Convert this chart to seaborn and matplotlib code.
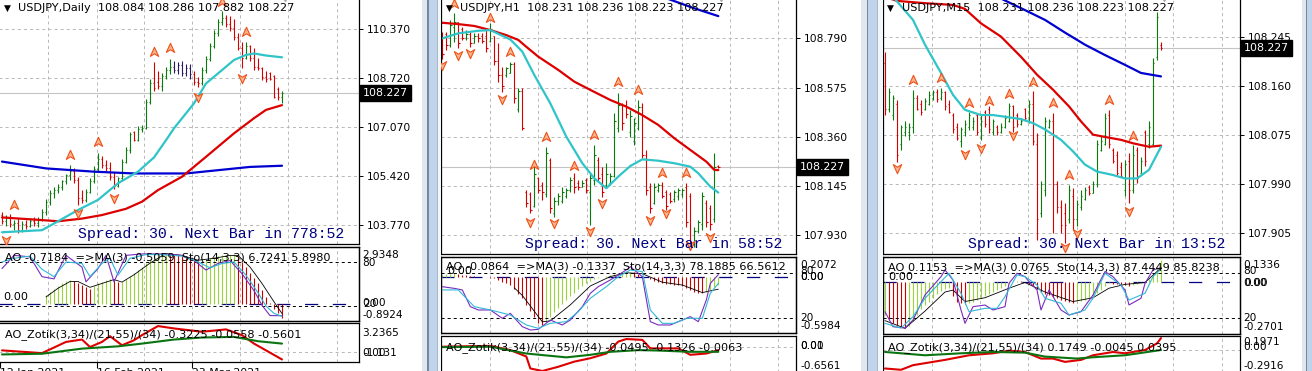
import numpy as np
import matplotlib
matplotlib.use("Agg")
import matplotlib.pyplot as plt
from matplotlib.path import Path
from matplotlib.patches import Rectangle
from matplotlib.transforms import ScaledTranslation
import seaborn as sns

sns.set_theme(style="white")
plt.rcParams["font.family"] = ["DejaVu Sans"]
plt.rcParams["lines.scale_dashes"] = False

nan = float("nan")

# ---------------- DATA: Daily ----------------
d1_open = [104.10,103.90,104.00,103.80,103.85,103.60,103.80,103.75,103.90,103.85,103.95,104.20,104.55,104.85,104.95,105.05,105.25,105.45,105.60,105.30,
           104.70,104.60,104.90,105.25,105.65,106.00,105.80,105.70,105.40,105.10,105.35,105.90,106.30,106.90,106.65,107.00,107.05,107.90,108.55,108.60,
           108.45,108.80,109.00,109.10,109.00,109.15,108.90,109.05,108.85,108.60,108.55,109.00,109.35,109.80,110.25,110.60,110.75,110.55,110.40,110.10,
           109.75,109.40,109.80,109.40,109.10,109.05,108.75,108.90,108.80,108.35,108.084]
d1_high = [104.22,104.10,104.15,103.95,104.00,103.90,103.95,104.00,104.05,104.05,104.30,104.65,104.95,105.05,105.15,105.30,105.50,105.79,105.70,105.40,
           104.95,105.00,105.35,105.75,106.19,106.10,105.95,105.90,105.55,105.40,106.00,106.40,106.90,106.95,107.10,107.15,108.00,108.70,109.27,108.95,
           108.90,109.10,109.35,109.30,109.25,109.30,109.20,109.20,108.95,108.75,109.10,109.45,109.90,110.35,110.70,110.97,110.85,110.80,110.70,110.25,
           109.95,109.95,109.85,109.75,109.40,109.10,108.95,108.94,108.82,108.43,108.286]
d1_low = [103.80,103.75,103.70,103.60,103.50,103.55,103.65,103.70,103.75,103.70,103.90,104.10,104.45,104.70,104.85,104.95,105.15,105.30,105.20,104.45,
          104.50,104.55,104.85,105.20,105.55,105.70,105.60,105.30,105.00,105.05,105.30,105.85,106.20,106.60,106.60,106.90,107.00,107.85,108.30,108.35,
          108.30,108.70,108.85,108.90,108.85,108.80,108.80,108.70,108.50,108.43,108.50,108.90,109.30,109.75,110.15,110.50,110.45,110.30,110.00,109.65,
          109.05,109.35,109.30,108.99,108.99,108.66,108.60,108.66,108.04,107.98,107.882]
d1_close = [103.90,104.00,103.80,103.85,103.60,103.80,103.75,103.90,103.85,103.95,104.20,104.55,104.85,104.95,105.05,105.25,105.45,105.60,105.30,104.70,
            104.60,104.90,105.25,105.65,106.00,105.80,105.70,105.40,105.10,105.35,105.90,106.30,106.85,106.65,107.00,107.05,107.90,108.55,108.40,108.45,
            108.80,109.00,109.10,109.00,109.15,108.90,109.05,108.85,108.60,108.55,109.00,109.35,109.80,110.25,110.60,110.75,110.55,110.40,110.10,109.75,
            109.40,109.80,109.40,109.10,109.05,108.75,108.70,108.70,108.10,108.08,108.227]
d1_cyan_idx = [0,10,14,19,24,29,34,38,41,43,48,51,55,58,61,63,66,70]
d1_cyan = [103.53,103.60,103.90,104.28,104.62,105.18,105.57,106.05,106.63,107.03,107.87,108.54,108.99,109.33,109.50,109.55,109.48,109.42]
d1_red_idx = [0,10,14,20,25,31,35,39,45,51,58,63,66,70]
d1_red = [104.03,103.94,103.90,103.99,104.11,104.32,104.56,104.95,105.40,106.07,106.86,107.37,107.65,107.81]
d1_blue_idx = [0,11,23,33,46,54,62,70]
d1_blue = [105.91,105.68,105.57,105.51,105.51,105.62,105.73,105.77]
d1_up_idx = [3,17,24,38,42,55,61]
d1_up = [104.45,106.13,106.58,109.61,109.72,111.29,110.28]
d1_dn_idx = [1,19,28,49,60]
d1_dn = [103.27,104.17,104.67,108.10,108.71]
d1_ao = [nan]*11 + [0.43,0.60,0.75,0.90,1.05,1.17,1.24,1.20,1.05,0.95,0.85,0.78,0.90,1.05,1.15,1.22,1.30,1.25,1.10,1.15,
                    1.30,1.45,1.60,1.75,1.90,2.10,2.30,2.45,2.55,2.62,2.65,2.60,2.55,2.50,2.45,2.40,2.35,2.25,2.20,2.22,
                    2.28,2.35,2.40,2.45,2.50,2.52,2.53,2.55,2.40,2.15,1.90,1.60,1.35,1.05,0.70,0.35,0.05,-0.25,-0.50,-0.72]
d1_sig_idx = [11,14,17,19,22,25,28,30,33,37,41,45,49,53,57,59,62,65,68,70]
d1_sig = [0.35,0.8,1.15,1.15,0.85,1.05,1.25,1.12,1.5,2.1,2.6,2.5,2.25,2.35,2.5,2.5,1.9,1.05,0.1,-0.5059]
d1_k_idx = [0,3,7,10,13,16,20,21,24,26,28,31,35,38,41,45,48,51,54,57,60,63,65,67,70]
d1_k = [71,89,87,60,57,89,73,53,71,89,53,89,91,91,91,89,82,69,78,82,64,41,21,7,6.72]
d1_d_idx = [0,3,7,10,13,16,20,22,25,27,29,32,36,40,45,49,52,55,58,61,64,66,68,70]
d1_d = [80,85,88,70,60,80,78,60,78,85,62,85,90,90,88,80,72,78,80,62,38,20,10,5.90]
d1_zr_idx = [0,10,16,20,22,25,27,30,33,35,39,43,50,56,60,63,66,70]
d1_zr = [0.13,-0.18,1.09,1.36,0.51,1.09,1.74,0.71,1.28,1.86,2.89,2.62,2.24,2.51,1.86,0.90,0.13,-0.90]
d1_zg_idx = [0,10,20,29,35,43,50,58,64,70]
d1_zg = [-0.33,-0.25,0.33,0.59,0.90,1.36,1.59,1.66,1.17,0.90]
d1_yticks = [103.770,105.420,107.070,108.720,110.370]
d1_dates = ["12 Jan 2021","16 Feb 2021","23 Mar 2021"]

# ---------------- DATA: H1 ----------------
d2_open = [108.80,108.81,108.76,108.84,108.86,108.83,108.79,108.81,108.77,108.80,108.80,108.80,108.78,108.80,108.69,108.63,108.63,108.64,108.68,108.48,
           108.56,108.12,108.11,108.06,108.18,108.15,108.11,108.26,108.03,108.08,108.08,108.10,108.13,108.18,108.16,108.14,108.17,108.12,108.17,108.26,
           108.20,108.15,108.16,108.19,108.40,108.50,108.50,108.38,108.34,108.40,108.49,108.28,108.14,108.07,108.13,108.15,108.12,108.11,108.09,108.10,
           108.11,108.14,108.10,107.89,107.95,107.98,108.07,108.05,108.00,108.231]
d2_high = [108.819,108.819,108.870,108.899,108.863,108.841,108.826,108.819,108.812,108.812,108.812,108.826,108.855,108.800,108.768,108.666,108.666,108.688,108.688,108.572,
           108.572,108.128,108.121,108.237,108.187,108.165,108.317,108.270,108.099,108.114,108.143,108.136,108.187,108.201,108.172,108.172,108.179,108.201,108.325,108.274,
           108.230,108.245,108.201,108.463,108.550,108.506,108.521,108.477,108.441,108.521,108.506,108.303,108.157,108.157,108.157,108.165,108.128,108.121,108.128,108.136,
           108.136,108.157,108.114,107.968,107.998,108.121,108.085,108.063,108.288,108.236]
d2_low = [108.700,108.739,108.753,108.775,108.746,108.783,108.783,108.753,108.768,108.775,108.768,108.732,108.775,108.674,108.601,108.557,108.623,108.637,108.506,108.470,
          108.390,108.056,108.027,108.056,108.114,108.085,108.099,108.027,108.012,108.063,108.070,108.092,108.121,108.114,108.128,108.140,108.114,107.976,108.150,108.165,
          108.099,108.143,108.150,108.187,108.383,108.390,108.441,108.361,108.325,108.390,108.266,108.107,108.027,108.065,108.121,108.092,108.041,108.070,108.078,108.085,
          108.099,107.968,107.867,107.881,107.939,107.954,107.968,107.954,107.990,108.223]
d2_close = [108.72,108.76,108.85,108.86,108.77,108.79,108.81,108.77,108.80,108.79,108.78,108.75,108.83,108.69,108.63,108.58,108.66,108.68,108.53,108.56,
            108.40,108.07,108.04,108.20,108.13,108.12,108.29,108.05,108.08,108.10,108.12,108.13,108.17,108.14,108.14,108.16,108.13,108.18,108.28,108.18,
            108.12,108.20,108.19,108.43,108.50,108.42,108.46,108.45,108.42,108.49,108.28,108.13,108.05,108.14,108.15,108.10,108.06,108.08,108.12,108.13,
            108.13,107.99,107.89,107.95,107.99,108.10,107.99,107.98,108.23,108.227]
d2_red_idx = [0,4,8,12,16,19,21,24,29,33,37,42,46,50,54,58,62,66,68,69]
d2_red = [108.858,108.852,108.844,108.826,108.804,108.783,108.753,108.710,108.652,108.601,108.565,108.521,108.492,108.455,108.412,108.354,108.303,108.252,108.216,108.215]
d2_cyan_idx = [0,4,9,12,17,20,23,27,31,35,38,41,44,47,50,54,58,62,64,67,69]
d2_cyan = [108.790,108.812,108.823,108.826,108.785,108.732,108.630,108.506,108.361,108.245,108.179,108.136,108.187,108.233,108.262,108.256,108.245,108.230,108.201,108.143,108.117]
d2_blue_idx = [56,63,69]
d2_blue = [108.965,108.921,108.887]
d2_up_idx = [3,12,17,23,26,33,38,44,49,55,61]
d2_up = [108.942,108.877,108.732,108.237,108.358,108.234,108.368,108.601,108.565,108.201,108.201]
d2_dn_idx = [0,4,7,15,22,28,37,40,52,56,62,67]
d2_dn = [108.673,108.717,108.724,108.524,107.990,107.983,107.951,108.070,107.998,108.027,107.890,107.922]
d2_ao = [0.02,0.025,0.03,0.035,0.03,0.02,0.015,0.01,0.005,0.0,-0.004,-0.008,-0.012,-0.02,-0.04,-0.06,-0.07,-0.09,-0.13,-0.18,
         -0.23,-0.30,-0.36,-0.43,-0.49,-0.51,-0.48,-0.43,-0.38,-0.33,-0.29,-0.25,-0.21,-0.17,-0.13,-0.10,-0.07,-0.05,-0.03,-0.02,
         -0.01,0.01,0.02,0.03,0.04,0.045,0.048,0.05,0.045,0.03,0.01,-0.01,-0.03,-0.05,-0.06,-0.07,-0.075,-0.08,-0.085,-0.09,
         -0.10,-0.12,-0.14,-0.16,-0.17,-0.175,-0.16,-0.14,-0.11,-0.0864]
d2_sig_idx = [18,20,25,27,32,37,42,46,50,55,60,65,69]
d2_sig = [-0.12,-0.2,-0.48,-0.47,-0.3,-0.1,0.0,0.04,0.03,-0.06,-0.09,-0.17,-0.1337]
d2_k_idx = [0,3,5,7,9,12,15,17,20,22,24,27,30,32,35,37,39,42,46,47,50,52,54,57,60,62,64,66,67,69]
d2_k = [62.1,59.9,57.8,35.5,31.1,31.1,20,26.6,8.9,4.4,5.3,17.7,11.1,17.7,35.5,53.3,62.2,71.1,84.4,88.8,75.5,15.5,11.1,11.1,17.7,22.2,15.5,44.4,66.6,78.19]
d2_d_idx = [0,4,8,12,17,21,24,27,31,34,37,41,44,47,50,52,55,58,61,65,67,69]
d2_d = [57.8,57.8,35.5,31.1,24.4,11.1,6.6,13.3,15.5,28.9,46.7,62.2,75.5,84.4,82.2,31.1,13.3,13.3,20,20,53.3,66.56]
d2_zg_idx = [0,12,21,31,37,42,49,54,62,69]
d2_zg = [-0.01,0.0,-0.16,-0.25,-0.19,-0.12,-0.08,-0.09,-0.12,-0.12]
d2_zr_idx = [0,12,17,21,22,25,29,33,37,41,44,46,50,52,56,59,62,66,69]
d2_zr = [0.0,0.02,-0.08,-0.23,-0.51,-0.57,-0.47,-0.35,-0.27,-0.16,0.12,0.18,0.16,-0.04,-0.04,-0.04,-0.19,-0.16,-0.08]
d2_yticks = [107.930,108.145,108.360,108.575,108.790]

# ---------------- DATA: M15 ----------------
d3_open = [108.20,108.12,108.11,108.13,108.06,108.08,108.08,108.09,108.14,108.13,108.12,108.13,108.14,108.15,108.14,108.15,108.13,108.11,108.09,108.065,
           108.08,108.09,108.09,108.11,108.07,108.115,108.12,108.08,108.09,108.08,108.09,108.10,108.125,108.11,108.095,108.12,108.10,108.13,108.06,107.94,
           107.98,108.09,108.10,107.99,107.95,107.94,107.93,107.97,107.93,107.95,107.965,107.985,107.975,107.99,108.05,108.06,108.11,108.05,108.04,108.02,
           107.98,108.03,107.98,108.05,108.01,108.08,108.06,108.06,108.21,108.231]
d3_high = [108.220,108.157,108.145,108.136,108.093,108.099,108.096,108.154,108.145,108.136,108.139,108.151,108.154,108.155,108.157,108.151,108.136,108.113,108.096,108.090,
           108.102,108.116,108.107,108.113,108.110,108.119,108.126,108.104,108.093,108.096,108.110,108.131,108.128,108.113,108.104,108.122,108.136,108.151,108.078,107.995,
           108.107,108.104,108.113,107.995,107.963,107.957,107.989,107.983,107.963,107.980,107.986,107.989,107.995,108.067,108.073,108.113,108.119,108.053,108.047,108.029,
           108.032,108.044,108.058,108.055,108.038,108.084,108.099,108.209,108.289,108.236]
d3_low = [108.110,108.116,108.102,108.029,108.050,108.073,108.067,108.078,108.119,108.110,108.119,108.128,108.136,108.133,108.136,108.119,108.113,108.078,108.067,108.055,
          108.073,108.084,108.084,108.076,108.067,108.090,108.078,108.076,108.076,108.078,108.087,108.098,108.081,108.090,108.093,108.102,108.096,108.058,107.894,107.934,
          107.969,108.087,107.905,107.940,107.905,107.888,107.922,107.911,107.917,107.946,107.963,107.972,107.974,107.986,108.047,108.058,108.053,108.027,108.006,108.003,
          107.969,107.957,107.974,107.992,108.009,108.021,108.053,108.058,108.206,108.223]
d3_close = [108.12,108.15,108.14,108.04,108.09,108.09,108.09,108.14,108.12,108.115,108.135,108.145,108.15,108.138,108.15,108.125,108.115,108.085,108.07,108.085,
            108.095,108.11,108.10,108.08,108.10,108.095,108.085,108.10,108.08,108.09,108.105,108.125,108.09,108.095,108.10,108.105,108.13,108.065,107.93,107.99,
            108.10,108.10,107.99,107.95,107.92,107.92,107.98,107.93,107.955,107.97,107.98,107.975,107.99,108.06,108.065,108.105,108.06,108.03,108.01,108.005,
            108.025,107.98,108.04,108.00,108.03,108.03,108.09,108.20,108.28,108.227]
d3_red_idx = [0,3,10,17,20,24,29,34,38,42,46,49,52,55,59,62,66,69]
d3_red = [108.315,108.308,108.304,108.301,108.294,108.269,108.246,108.211,108.180,108.154,108.125,108.099,108.076,108.072,108.067,108.061,108.055,108.057]
d3_cyan_idx = [0,3,7,10,14,17,20,24,27,30,34,37,40,44,47,50,53,57,60,63,66,69]
d3_cyan = [108.330,108.307,108.275,108.232,108.183,108.145,108.119,108.110,108.110,108.107,108.103,108.096,108.085,108.067,108.047,108.024,108.012,108.006,108.000,108.000,108.015,108.055]
d3_blue_idx = [27,29,35,40,45,50,55,60,64,69]
d3_blue = [108.322,108.312,108.292,108.275,108.253,108.232,108.214,108.197,108.183,108.177]
d3_up_idx = [7,14,21,26,31,37,42,46,56,62]
d3_up = [108.171,108.174,108.131,108.135,108.146,108.168,108.131,108.006,108.136,108.073]
d3_dn_idx = [3,20,24,32,45,48,61]
d3_dn = [108.018,108.043,108.053,108.076,107.882,107.905,107.943]
d3_ao = [-0.17,-0.19,-0.21,-0.225,-0.235,-0.24,-0.23,-0.20,-0.17,-0.14,-0.12,-0.10,-0.08,-0.06,-0.045,-0.035,-0.03,-0.07,-0.10,-0.11,
         -0.115,-0.105,-0.10,-0.09,-0.08,-0.07,-0.06,-0.05,-0.04,-0.03,-0.02,-0.01,0.005,0.01,0.008,0.005,-0.01,-0.02,-0.035,-0.05,
         -0.06,-0.065,-0.075,-0.08,-0.09,-0.095,-0.10,-0.105,-0.10,-0.095,-0.09,-0.08,-0.07,-0.055,-0.04,-0.02,-0.005,-0.006,-0.01,-0.012,
         -0.015,-0.02,-0.015,-0.01,-0.005,0.005,0.02,0.045,0.08,0.1153]
d3_sig_idx = [0,5,10,15,17,20,25,31,35,40,47,52,56,60,65,69]
d3_sig = [-0.20,-0.24,-0.15,-0.05,-0.04,-0.10,-0.08,-0.03,0.0,-0.05,-0.10,-0.08,-0.03,-0.01,0.0,0.0765]
d3_k_idx = [0,2,5,7,10,14,15,17,19,20,22,25,27,30,31,33,35,36,38,39,41,44,46,49,52,55,57,60,61,64,65,67,69]
d3_k = [28.8,8.8,7.0,17.7,51.1,75.5,84.4,71.1,31.1,13.3,35.5,37.7,31.1,35.5,66.6,80,75.5,68.9,57.8,31.1,57.8,31.1,24.4,28.8,51.1,82.2,75.5,57.8,37.8,46.7,66.6,84.4,87.44]
d3_d_idx = [0,4,7,10,14,16,19,21,25,28,30,33,35,38,40,44,46,50,52,55,59,61,65,67,69]
d3_d = [13.3,7.0,22.2,46.7,68.9,80,53.3,28.9,33.3,33.3,48.9,77.8,75.5,64.4,46.7,40,24.4,31.1,46.7,80,64.4,44.4,53.3,75.5,85.82]
d3_zg_idx = [0,10,19,27,35,40,48,52,60,69]
d3_zg = [-0.03,-0.08,-0.05,-0.03,-0.04,-0.10,-0.13,-0.11,-0.08,0.0]
d3_zr_idx = [0,4,7,15,21,27,31,35,39,42,45,49,52,57,60,65,68,69]
d3_zr = [-0.28,-0.30,-0.23,-0.15,-0.08,-0.05,-0.01,-0.03,-0.13,-0.13,-0.18,-0.15,-0.08,-0.03,-0.05,0.0,0.10,0.18]
d3_yticks = [107.905,107.990,108.075,108.160,108.245]

# ---------------- STYLE ----------------
W, H = 1312, 371
BULL, BEAR, DARK = "#0a7a0a", "#d60000", "#2b1a60"
CYAN, REDMA, BLUEMA = "#2fc4c8", "#dc0000", "#0000d0"
AO_G, AO_R = "#9ad43a", "#c80000"
PURPLE, STO_C, NAVY = "#7a2bc0", "#30b8d8", "#000080"
LW1 = 0.8
GRID = dict(color="#b8b8b8", lw=0.7, ls=(0, (2.2, 2.2)), zorder=0)

fig = plt.figure(figsize=(W / 100, H / 100), dpi=100)
fig.patch.set_facecolor("white")


def px_axes(x0, y0, x1, y1):
    ax = fig.add_axes([x0 / W, 1 - y1 / H, (x1 - x0) / W, (y1 - y0) / H])
    ax.set_facecolor("white")
    for s in ax.spines.values():
        s.set_color("black")
        s.set_linewidth(0.9)
    ax.set_xticks([])
    ax.set_yticks([])
    return ax


def ftext(x, y, s, **kw):
    kw.setdefault("fontsize", 7.3)
    kw.setdefault("va", "center")
    kw.setdefault("color", "black")
    fig.text(x / W, 1 - y / H, s, **kw)


def frect(x0, x1, color, y0=0, y1=H):
    fig.add_artist(Rectangle((x0 / W, 1 - y1 / H), (x1 - x0) / W, (y1 - y0) / H,
                             transform=fig.transFigure, fc=color, ec="none", zorder=0.5))


UP = Path([(0, 1), (0.8, -0.75), (0, -0.25), (-0.8, -0.75), (0, 1)],
          [Path.MOVETO, Path.LINETO, Path.LINETO, Path.LINETO, Path.CLOSEPOLY])
DN = Path([(0, -1), (0.8, 0.75), (0, 0.25), (-0.8, 0.75), (0, -1)],
          [Path.MOVETO, Path.LINETO, Path.LINETO, Path.LINETO, Path.CLOSEPOLY])


def line(ax, idx, vals, color, lw):
    sns.lineplot(x=np.asarray(idx, float), y=np.asarray(vals, float), ax=ax, color=color,
                 linewidth=lw, estimator=None, sort=False, legend=False)
    ax.set_xlabel("")
    ax.set_ylabel("")


def main_panel(box, xlim, ylim, yticks, grid_x, o, h, l, c, mas, up, dn, dark=()):
    ax = px_axes(*box)
    for g in grid_x:
        ax.axvline(g, **GRID)
    for t in yticks:
        ax.axhline(t, **GRID)
    ax.axhline(c[-1], color="#c4c4c4", lw=0.8, zorder=0.5)
    o, h, l, c = (np.asarray(a, float) for a in (o, h, l, c))
    x = np.arange(len(o))
    cols = [BULL if cc > oo else BEAR for oo, cc in zip(o, c)]
    for k in dark:
        cols[k] = DARK
    ax.vlines(x, l, h, colors=cols, lw=LW1, zorder=2)
    ax.hlines(o, x - 0.32, x, colors=cols, lw=LW1, zorder=2)
    ax.hlines(c, x, x + 0.32, colors=cols, lw=LW1, zorder=2)
    for idx, vals, col in mas:
        line(ax, idx, vals, col, 1.6)
    ax.plot(up[0], up[1], ls="none", marker=UP, ms=7.5, mfc="#fcb58e", mec="#ee5218", mew=0.8, zorder=4)
    ax.plot(dn[0], dn[1], ls="none", marker=DN, ms=7.5, mfc="#fcb58e", mec="#ee5218", mew=0.8, zorder=4)
    ax.plot([len(o) - 0.3], [ylim[1]], ls="none", marker="v", ms=5, color="#a8a8a8", zorder=4, clip_on=False)
    ax.set_xlim(xlim)
    ax.set_ylim(ylim)
    ax.yaxis.tick_right()
    ax.set_yticks(yticks)
    ax.set_yticklabels([f"{t:.3f}" for t in yticks])
    ax.tick_params(axis="y", length=3, width=0.7, pad=3, labelsize=7.7, colors="black", left=False, right=True)
    off = ScaledTranslation(4 / 100, 0, fig.dpi_scale_trans)
    ax.text(1.0, c[-1], f"{c[-1]:.3f}", transform=ax.get_yaxis_transform() + off, ha="left", va="center",
            color="white", fontsize=7.9, zorder=6,
            bbox=dict(boxstyle="square,pad=0.28", fc="black", ec="black"))
    return ax


def sub1_panel(box, xlim, ylim, slim, grid_x, ao, sig, k, d):
    ax = px_axes(*box)
    for g in grid_x:
        ax.axvline(g, **GRID)
    ao = np.asarray(ao, float)
    x = np.arange(len(ao))
    prev = np.concatenate([[np.nan], ao[:-1]])
    ok = np.isfinite(ao)
    upm = ok & ~(ao < prev)
    dnm = ok & (ao < prev)
    ax.vlines(x[upm], 0, ao[upm], colors=AO_G, lw=LW1, zorder=2)
    ax.vlines(x[dnm], 0, ao[dnm], colors=AO_R, lw=LW1, zorder=2)
    ax.axhline(0, color=NAVY, lw=0.9, ls=(0, (9.5, 10.5)), zorder=1)
    line(ax, sig[0], sig[1], "black", 0.6)
    ax.set_xlim(xlim)
    ax.set_ylim(ylim)
    ax2 = ax.twinx()
    for s in ax2.spines.values():
        s.set_color("black")
        s.set_linewidth(0.9)
    ax2.axhline(80, color="black", lw=0.7, ls=(0, (2.2, 2.2)))
    ax2.axhline(20, color="black", lw=0.7, ls=(0, (2.2, 2.2)))
    line(ax2, k[0], k[1], PURPLE, 0.8)
    line(ax2, d[0], d[1], STO_C, 0.8)
    ax2.set_ylim(slim)
    ax2.set_xlim(xlim)
    ax2.set_yticks([])
    ax2.set_xticks([])
    return ax


def sub2_panel(box, xlim, ylim, grid_x, zr, zg):
    ax = px_axes(*box)
    for g in grid_x:
        ax.axvline(g, **GRID)
    ax.axhline(0, **GRID)
    line(ax, zr[0], zr[1], "#dd0000", 1.5)
    line(ax, zg[0], zg[1], "#0a7410", 1.5)
    ax.set_xlim(xlim)
    ax.set_ylim(ylim)
    return ax


# ---------------- window frames ----------------
for x0, x1, col in [(422, 427, "#e0e7ef"), (427, 428.6, "#75879e"), (428.6, 437, "#bfd4ea"),
                    (437, 438, "#a9b7c6"), (438, 441, "#f3f6f9"),
                    (861, 866.5, "#e0e7ef"), (866.5, 868.2, "#75879e"), (868.2, 877, "#bfd4ea"),
                    (877, 878, "#a9b7c6"), (878, 883, "#f3f6f9"),
                    (1302, 1306, "#e0e7ef"), (1306, 1307.4, "#75879e"), (1307.4, 1312, "#bfd4ea")]:
    frect(x0, x1, col)

# ---------------- Panel 1 (Daily) ----------------
g1 = [11.5, 23.75, 35.5, 47.5, 59.5, 71.5, 83.75]
xl1 = (-1.0, 89.25)
main_panel((-2, -2, 359, 244), xl1, (103.135, 111.417), d1_yticks, g1,
           d1_open, d1_high, d1_low, d1_close,
           [(d1_blue_idx, d1_blue, BLUEMA), (d1_red_idx, d1_red, REDMA), (d1_cyan_idx, d1_cyan, CYAN)],
           (d1_up_idx, d1_up), (d1_dn_idx, d1_dn), dark=(43, 44, 45, 46, 47))
sub1_panel((-2, 247, 359, 321), xl1, (-0.8924, 2.9348), (-0.4, 100.4), g1, d1_ao,
           (d1_sig_idx, d1_sig), (d1_k_idx, d1_k), (d1_d_idx, d1_d))
a13 = sub2_panel((-2, 323, 359, 361.5), xl1, (-1.131, 3.2365), g1, (d1_zr_idx, d1_zr), (d1_zg_idx, d1_zg))
a13.set_xticks([-0.5, 23.75, 47.5])
a13.set_xticklabels(d1_dates, ha="left")
a13.tick_params(axis="x", bottom=True, length=4, width=0.8, pad=1, labelsize=7.8, colors="black", direction="out")

# ---------------- Panel 2 (H1) ----------------
g2 = [11.9, 24.0, 36.1, 48.2, 59.8, 71.9, 84.0]
xl2 = (-0.33, 88.42)
main_panel((441, -2, 796, 254), xl2, (107.849, 108.966), d2_yticks, g2,
           d2_open, d2_high, d2_low, d2_close,
           [(d2_blue_idx, d2_blue, BLUEMA), (d2_red_idx, d2_red, REDMA), (d2_cyan_idx, d2_cyan, CYAN)],
           (d2_up_idx, d2_up), (d2_dn_idx, d2_dn))
sub1_panel((441, 257, 796, 333), xl2, (-0.5984, 0.2072), (0.4, 101.7), g2, d2_ao,
           (d2_sig_idx, d2_sig), (d2_k_idx, d2_k), (d2_d_idx, d2_d))
sub2_panel((441, 336, 796, 376), xl2, (-0.687, 0.251), g2, (d2_zr_idx, d2_zr), (d2_zg_idx, d2_zg))

# ---------------- Panel 3 (M15) ----------------
g3 = [11.7, 23.75, 35.8, 47.9, 60.0, 72.0, 84.2]
xl3 = (-0.5, 88.75)
main_panel((883, -2, 1240, 254), xl3, (107.869, 108.313), d3_yticks, g3,
           d3_open, d3_high, d3_low, d3_close,
           [(d3_blue_idx, d3_blue, BLUEMA), (d3_red_idx, d3_red, REDMA), (d3_cyan_idx, d3_cyan, CYAN)],
           (d3_up_idx, d3_up), (d3_dn_idx, d3_dn))
sub1_panel((883, 257, 1240, 334), xl3, (-0.2701, 0.1336), (-0.9, 101.7), g3, d3_ao,
           (d3_sig_idx, d3_sig), (d3_k_idx, d3_k), (d3_d_idx, d3_d))
sub2_panel((883, 336, 1240, 376), xl3, (-0.394, 0.212), g3, (d3_zr_idx, d3_zr), (d3_zg_idx, d3_zg))

# ---------------- texts ----------------
for tx, hx, s in [(4, 18, "USDJPY,Daily  108.084 108.286 107.882 108.227"),
                  (446, 460, "USDJPY,H1  108.231 108.236 108.223 108.227"),
                  (887, 902, "USDJPY,M15  108.231 108.236 108.223 108.227")]:
    ftext(tx, 8, "\u25bc", fontsize=6.5)
    ftext(hx, 8, s, fontsize=8.1)

for x, y, s in [(78, 234, "Spread: 30. Next Bar in 778:52"),
                (525, 244, "Spread: 30. Next Bar in 58:52"),
                (968, 244, "Spread: 30. Next Bar in 13:52")]:
    ftext(x, y, s, fontsize=10.7, family="Liberation Mono", color=NAVY)

for x, y, s in [(5, 257, "AO -0.7184  =>MA(3) -0.5059  Sto(14,3,3) 6.7241 5.8980"), (3, 297, "0.00"),
                (5, 334.5, "AO_Zotik(3,34)/(21,55)/(34) -0.3225 -0.0558 -0.5601"),
                (446, 266.5, "AO -0.0864  =>MA(3) -0.1337  Sto(14,3,3) 78.1885 66.5612"), (447, 271, "0.00"),
                (446, 347.5, "AO_Zotik(3,34)/(21,55)/(34) -0.0495 -0.1326 -0.0063"),
                (888, 267, "AO 0.1153  =>MA(3) 0.0765  Sto(14,3,3) 87.4449 85.8238"), (888, 276.5, "0.00"),
                (888, 348, "AO_Zotik(3,34)/(21,55)/(34) 0.1749 -0.0045 0.0395")]:
    ftext(x, y, s, fontsize=8.1)

for x, y, s in [(362.5, 255, "2.9348"), (362.5, 262.5, "80"), (362.5, 303, "0.00"), (363.5, 304, "20"),
                (362.5, 314.5, "-0.8924"), (362.5, 332.5, "3.2365"), (362.5, 352.5, "0.00"), (363.5, 353.5, "-1.131"),
                (800, 265, "0.2072"), (800, 271.5, "80"), (800, 277.5, "0.00"), (800.6, 277.5, "0.00"),
                (800, 318.3, "20"), (800, 326, "-0.5984"), (800, 346, "0.00"), (800.6, 346, "0.01"), (800, 366, "-0.6561"),
                (1243.3, 265, "0.1336"), (1243.3, 271.5, "80"), (1243.3, 282.5, "0.00"), (1243.9, 282.5, "0.00"),
                (1243.3, 318.3, "20"), (1243.3, 326.5, "-0.2701"), (1243.3, 342, "0.1971"), (1243.3, 346.5, "0.00"),
                (1243.3, 366, "-0.2916")]:
    ftext(x, y, s, fontsize=7.6)

fig.savefig("out.png", dpi=100, facecolor="white")
